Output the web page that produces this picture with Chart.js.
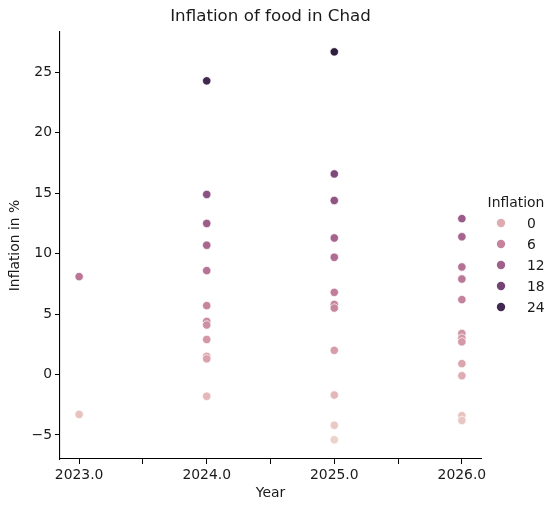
<!DOCTYPE html>
<html>
<head>
<meta charset="utf-8">
<script src="https://cdn.jsdelivr.net/npm/chart.js@4.4.0/dist/chart.umd.min.js"></script>
<style>
  html, body { margin: 0; padding: 0; background: #fff; }
  #wrap { width: 557px; height: 512px; }
</style>
</head>
<body>
<div id="wrap"><canvas id="myChart" width="557" height="512"></canvas></div>
<script>
// food inflation in Chad (one entry per point)
const years = [
  2023, 2023,
  2024, 2024, 2024, 2024, 2024, 2024, 2024, 2024, 2024, 2024, 2024, 2024,
  2025, 2025, 2025, 2025, 2025, 2025, 2025, 2025, 2025, 2025, 2025, 2025,
  2026, 2026, 2026, 2026, 2026, 2026, 2026, 2026, 2026, 2026, 2026, 2026
];
const inflation = [
  8.1, -3.3,
  24.3, 14.9, 12.5, 10.7, 8.6, 5.7, 4.4, 4.1, 2.9, 1.5, 1.3, -1.8,
  26.7, 16.6, 14.4, 11.3, 9.7, 6.8, 5.8, 5.5, 2.0, -1.7, -4.2, -5.4,
  12.9, 11.4, 8.9, 7.9, 6.2, 3.4, 3.0, 2.7, 0.9, -0.1, -3.4, -3.8
];
const legendTicks = [0, 6, 12, 18, 24];

const font = 'DejaVu Sans';
const textColor = '#1a1a1a';

// seaborn's default cubehelix palette (light -> dark)
function cubehelix(x) {
  const a = 0.8 * x * (1 - x) / 2;
  const phi = 2 * Math.PI * (0.4 * x);
  const c = Math.cos(phi), s = Math.sin(phi);
  let r = x + a * (-0.14861 * c + 1.78277 * s);
  let g = x + a * (-0.29227 * c - 0.90649 * s);
  let b = x + a * (1.97294 * c);
  const cl = v => Math.round(Math.max(0, Math.min(1, v)) * 255);
  return 'rgb(' + cl(r) + ',' + cl(g) + ',' + cl(b) + ')';
}
const vmin = Math.min(...inflation);
const vmax = Math.max(...inflation);
function hueColor(v) {
  const t = (v - vmin) / (vmax - vmin);
  return cubehelix(0.85 - 0.7 * t);
}

const points = years.map((y, i) => ({x: y, y: inflation[i]}));

// legend on the right, drawn like seaborn's
const hueLegend = {
  id: 'hueLegend',
  afterDraw(chart) {
    const ctx = chart.ctx;
    ctx.save();
    ctx.font = '13.9px "' + font + '"';
    ctx.fillStyle = textColor;
    ctx.textBaseline = 'middle';
    ctx.textAlign = 'center';
    ctx.fillText('Inflation', 516, 203);
    ctx.textAlign = 'left';
    legendTicks.forEach((v, i) => {
      const y = 223 + i * 21;
      ctx.beginPath();
      ctx.arc(501, y, 4.2, 0, Math.PI * 2);
      ctx.fillStyle = hueColor(v);
      ctx.fill();
      ctx.fillStyle = textColor;
      ctx.fillText(String(v), 527, y + 1);
    });
    ctx.restore();
  }
};

const ctx = document.getElementById('myChart');
let myChart = new Chart(ctx, {
  type: 'scatter',
  data: {
    datasets: [{
      label: 'Inflation',
      data: points,
      backgroundColor: c => hueColor(c.raw ? c.raw.y : 0),
      borderColor: '#ffffff',
      borderWidth: 0.7,
      pointRadius: 4.2,
      pointHoverRadius: 4.2
    }]
  },
  options: {
    responsive: false,
    animation: false,
    devicePixelRatio: 1,
    layout: { padding: { left: 0, right: 76, top: 0, bottom: 0 } },
    plugins: {
      legend: { display: false },
      tooltip: { enabled: false },
      title: {
        display: true,
        text: 'Inflation of food in Chad',
        fullSize: false,
        color: textColor,
        font: { family: font, size: 16.7, weight: 'normal' },
        padding: { top: 7, bottom: 5 }
      }
    },
    scales: {
      x: {
        type: 'linear',
        min: 2022.85,
        max: 2026.15,
        afterFit: s => { s.height = 53; },
        grid: { drawOnChartArea: false, drawTicks: true, tickLength: 5, tickColor: '#000', tickWidth: 1 },
        border: { display: true, color: '#000', width: 1.1 },
        ticks: {
          stepSize: 0.5,
          includeBounds: false,
          autoSkip: false,
          maxRotation: 0,
          padding: 3,
          color: textColor,
          font: { family: font, size: 13.9 },
          callback: v => Number.isInteger(v) ? v.toFixed(1) : ''
        },
        title: {
          display: true,
          text: 'Year',
          color: textColor,
          font: { family: font, size: 13.9 },
          padding: { top: 0, bottom: 10 }
        }
      },
      y: {
        min: -6.99,
        max: 28.34,
        afterFit: s => { s.width = 60; },
        grid: { drawOnChartArea: false, drawTicks: true, tickLength: 5, tickColor: '#000', tickWidth: 1 },
        border: { display: true, color: '#000', width: 1.1 },
        ticks: {
          stepSize: 5,
          includeBounds: false,
          padding: 3,
          color: textColor,
          font: { family: font, size: 13.9 },
          callback: v => v < 0 ? '\u2212' + Math.abs(v) : String(v)
        },
        title: {
          display: true,
          text: 'Inflation in %',
          color: textColor,
          font: { family: font, size: 13.9 },
          padding: { top: 7, bottom: 0 }
        }
      }
    }
  },
  plugins: [hueLegend]
});
</script>
</body>
</html>
